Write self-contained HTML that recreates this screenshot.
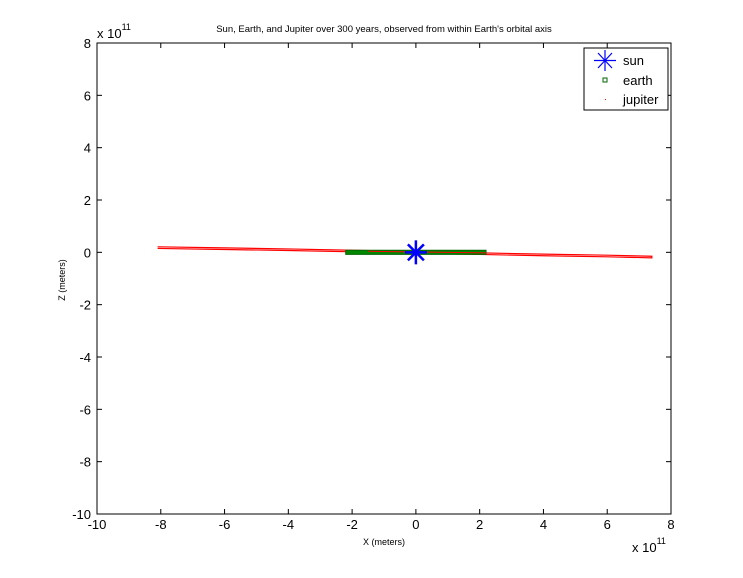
<!DOCTYPE html>
<html><head><meta charset="utf-8"><style>
body{margin:0;background:#fff;}
svg{display:block;font-family:"Liberation Sans",sans-serif;}
</style></head><body>
<svg id="chart" width="743" height="578" viewBox="0 0 743 578">
<rect x="0" y="0" width="743" height="578" fill="#fff"/>
<rect x="97" y="43" width="574" height="471" fill="#fff" stroke="#000" stroke-width="1"/>
<g id="ticks"></g>
<g id="marks"></g>
<text x="384" y="32" font-size="9.5" text-anchor="middle">Sun, Earth, and Jupiter over 300 years, observed from within Earth's orbital axis</text>
<text x="384" y="545" font-size="9" text-anchor="middle">X (meters)</text>
<text x="65" y="280" font-size="9" text-anchor="middle" transform="rotate(-90 65 280)">Z (meters)</text>
<text x="632" y="552" font-size="13">x 10<tspan font-size="9" dy="-8">11</tspan></text>
<text x="97" y="38" font-size="13">x 10<tspan font-size="9" dy="-8">11</tspan></text>
<g>
<rect x="584" y="48" width="84" height="62" fill="#fff" stroke="#000"/>
<g stroke="#00f" stroke-width="1.2">
<line x1="605" y1="50" x2="605" y2="71"/><line x1="594" y1="60.5" x2="616" y2="60.5"/>
<line x1="598" y1="53" x2="612" y2="68"/><line x1="598" y1="68" x2="612" y2="53"/></g>
<text x="623" y="65" font-size="13">sun</text>
<rect x="603" y="78" width="4" height="4" fill="none" stroke="#060"/>
<text x="623" y="85" font-size="13">earth</text>
<rect x="605" y="99" width="1" height="1" fill="#f00"/>
<text x="623" y="104" font-size="13">jupiter</text>
</g>
</svg>
<script>
const xTicks=[-10,-8,-6,-4,-2,0,2,4,6,8];
const yTicks=[-10,-8,-6,-4,-2,0,2,4,6,8];
const jupiterX=[-8.1,-6,-4,-2,0,2,4,6,7.4];
const jupiterZ=[0.18,0.14,0.1,0.05,0,-0.05,-0.1,-0.14,-0.18];
const earthX=[-2.2,2.2];
const earthZ=[0.04,-0.04];
const sunX=[0];const sunZ=[0];
const NS='http://www.w3.org/2000/svg';
const sx=v=>97+(v+10)*574/18;
const sy=v=>514-(v+10)*471/18;
function mk(t,a,p){const e=document.createElementNS(NS,t);for(const k in a)e.setAttribute(k,a[k]);p.appendChild(e);return e;}
const tg=document.getElementById('ticks');
xTicks.forEach(v=>{const x=sx(v);
mk('line',{x1:x,y1:514,x2:x,y2:509,stroke:'#000'},tg);mk('line',{x1:x,y1:43,x2:x,y2:48,stroke:'#000'},tg);
const t=mk('text',{x:x,y:529,'font-size':13,'text-anchor':'middle'},tg);t.textContent=v;

});
yTicks.forEach(v=>{const y=sy(v);
mk('line',{x1:97,y1:y,x2:102,y2:y,stroke:'#000'},tg);mk('line',{x1:671,y1:y,x2:666,y2:y,stroke:'#000'},tg);
const t=mk('text',{x:91,y:y+5,'font-size':13,'text-anchor':'end'},tg);t.textContent=v;

});
const mg=document.getElementById('marks');
// jupiter orbit (thin edge-on ellipse)
let d='M'+jupiterX.map((x,i)=>sx(x)+','+(sy(jupiterZ[i])-0.8)).join('L');
d+='L'+jupiterX.slice().reverse().map((x,i,a)=>sx(x)+','+(sy(jupiterZ[jupiterX.length-1-i])+0.8)).join('L');
const jp=mk('path',{d:d,fill:'none',stroke:'#f00','stroke-width':1.2},mg);


// earth orbit
const ep=mk('polygon',{points:[sx(earthX[0])+','+(sy(earthZ[0])-1),sx(earthX[1])+','+(sy(earthZ[0])-1),sx(earthX[1])+','+(sy(earthZ[1])+1),sx(earthX[0])+','+(sy(earthZ[1])+1)].join(' '),fill:'#080',stroke:'#060'},mg);


// red over green center
mk('line',{x1:sx(-1.5),y1:sy(0.04),x2:sx(2.2),y2:sy(-0.02),stroke:'#f00','stroke-width':1},mg);
// sun
const cx=sx(sunX[0]),cy=sy(sunZ[0]);
const sg=mk('g',{stroke:'#00f','stroke-width':2.5},mg);


mk('line',{x1:cx,y1:cy-12,x2:cx,y2:cy+12},sg);mk('line',{x1:cx-11,y1:cy,x2:cx+11,y2:cy},sg);
mk('line',{x1:cx-8,y1:cy-8,x2:cx+8,y2:cy+8},sg);mk('line',{x1:cx-8,y1:cy+8,x2:cx+8,y2:cy-8},sg);
</script>
</body></html>
